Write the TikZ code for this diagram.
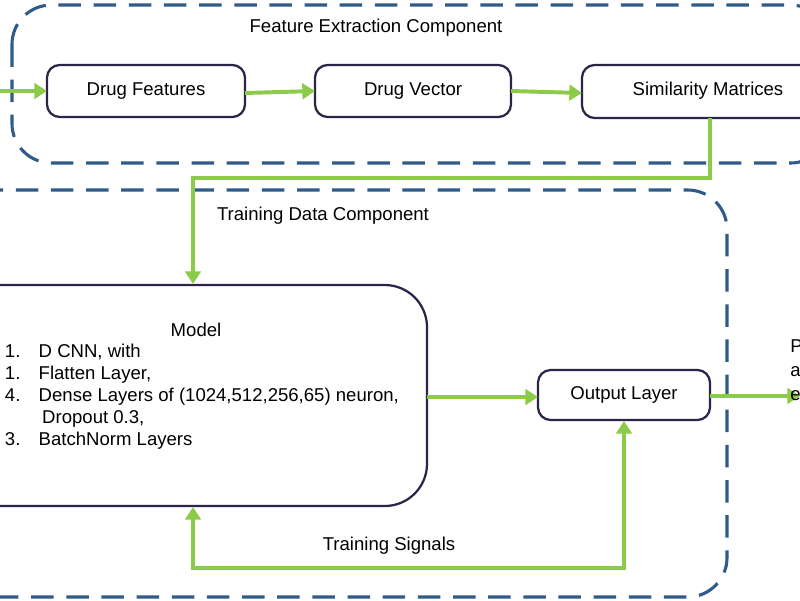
\documentclass[tikz,border=0pt]{standalone}
\usepackage{fontspec}
\setmainfont{Liberation Sans}
\usetikzlibrary{arrows.meta}
\definecolor{dash}{HTML}{2F5A8A}
\definecolor{grn}{HTML}{8CCB4A}
\definecolor{bord}{HTML}{2E2448}
\begin{document}
\begin{tikzpicture}[x=0.025cm,y=-0.025cm,
  font=\fontsize{13.2}{15.6}\selectfont,
  box/.style={draw=bord,line width=1.6pt,rounded corners=9pt,fill=white,align=center},
  region/.style={draw=dash,line width=2.2pt,dash pattern=on 16pt off 9pt,rounded corners=28pt},
  flow/.style={draw=grn,line width=2.8pt,-{Triangle[length=9pt,width=11pt]}}]
\useasboundingbox (0,0) rectangle (800,600);
\clip (0,0) rectangle (800,600);
\fill[white] (0,0) rectangle (800,600);
\draw[region] (12,5) rectangle (830,163);
\draw[region] (-40,190) rectangle (727,597);
\node at (376,28) {Feature Extraction Component};
\node at (323,216) {Training Data Component};
\coordinate (a1) at (47,65); \coordinate (a2) at (245,117);
\draw[box] (a1) rectangle (a2);
\node (df) at (146,91) {Drug Features};
\coordinate (b1) at (315,65); \coordinate (b2) at (511,117);
\draw[box] (b1) rectangle (b2);
\node (dv) at (413,91) {Drug Vector};
\coordinate (c1) at (582,65); \coordinate (c2) at (830,118);
\draw[box] (c1) rectangle (c2);
\node (sm) at (708,91) {Similarity Matrices};
\coordinate (m1) at (-40,285); \coordinate (m2) at (427,506);
\draw[box,rounded corners=30pt] (m1) rectangle (m2);
\node at (196,330) {Model};
\node[anchor=west,align=left] at (0,397) {1.\hspace{13pt}D CNN, with\\1.\hspace{13pt}Flatten Layer,\\4.\hspace{13pt}Dense Layers of (1024,512,256,65) neuron,\\\hspace{26.5pt}Dropout 0.3,\\3.\hspace{13pt}BatchNorm Layers};
\coordinate (o1) at (538,370); \coordinate (o2) at (710,420);
\draw[box] (o1) rectangle (o2);
\node (ol) at (624,395) {Output Layer};
\coordinate (in) at (0,91);
\draw[flow] (in) -- (47,91);
\draw[flow] (245,93) -- (315,91);
\draw[flow] (511,91) -- (582,93);
\draw[flow] (710,118) -- (710,178) -- (193,178) -- (193,284);
\draw[flow] (427,397) -- (538,397);
\draw[flow] (710,396) -- (800,396);
\draw[draw=grn,line width=2.8pt,{Triangle[length=9pt,width=11pt]}-{Triangle[length=9pt,width=11pt]}] (193,507) -- (193,568) -- (624,568) -- (624,421);
\node at (389,546) {Training Signals};
\node[anchor=west,align=left,inner sep=0,font=\fontsize{13.2}{17}\selectfont] at (790,370) {P\\a\\e};
\end{tikzpicture}
\end{document}
